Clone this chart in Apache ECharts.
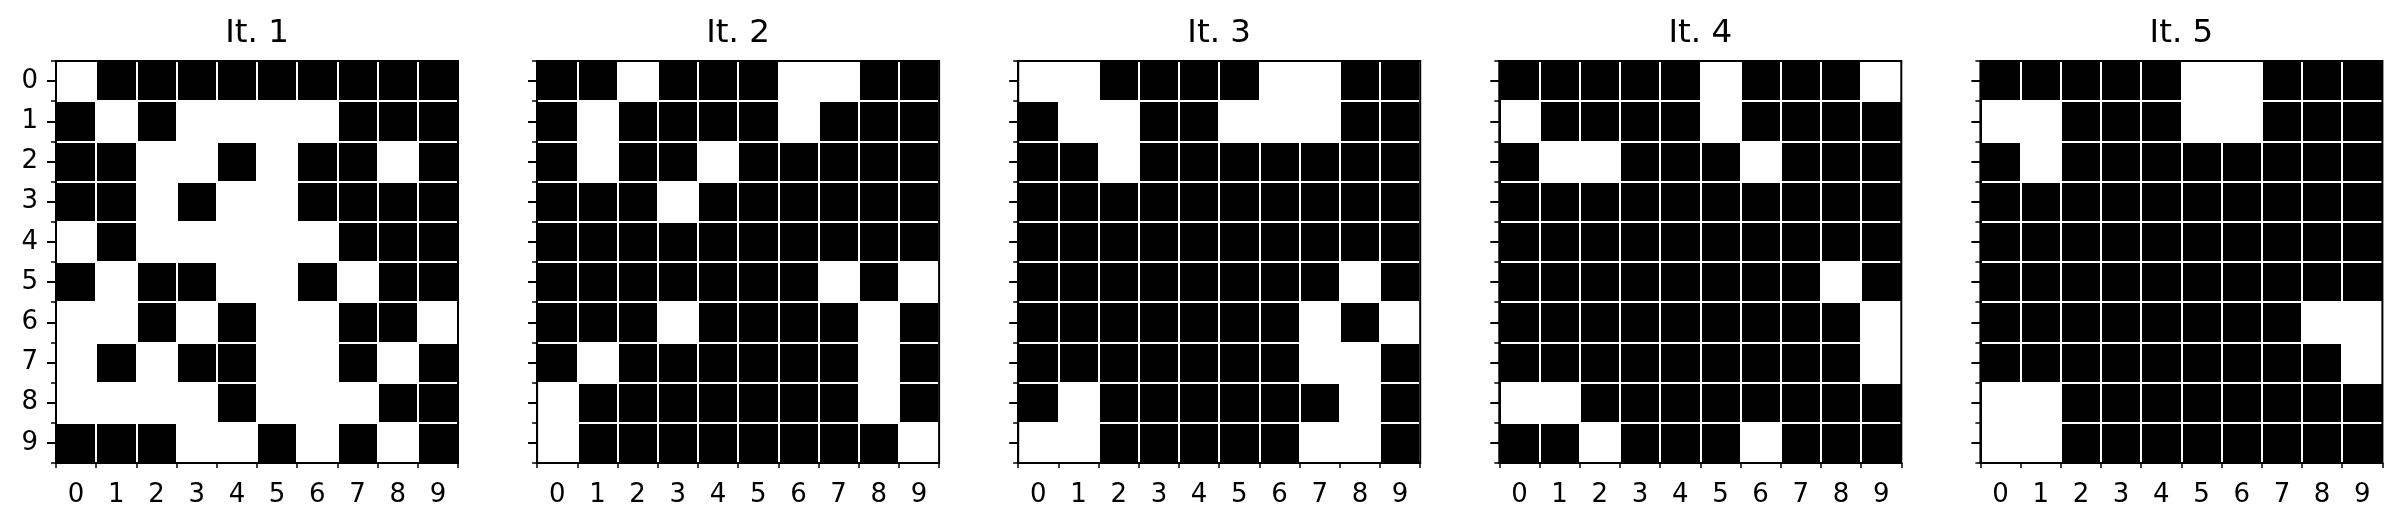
<!DOCTYPE html>
<html><head><meta charset="utf-8">
<script src="https://cdn.jsdelivr.net/npm/echarts@6/dist/echarts.min.js"></script>
<style>html,body{margin:0;padding:0;background:#fff}#c{width:2402px;height:530px}</style>
</head><body><div id="c"></div>
<script>
const titles = ['It. 1', 'It. 2', 'It. 3', 'It. 4', 'It. 5'];
const categories = ['0', '1', '2', '3', '4', '5', '6', '7', '8', '9'];

const it1 = [
  [0,1,1,1,1,1,1,1,1,1],
  [1,0,1,0,0,0,0,1,1,1],
  [1,1,0,0,1,0,1,1,0,1],
  [1,1,0,1,0,0,1,1,1,1],
  [0,1,0,0,0,0,0,1,1,1],
  [1,0,1,1,0,0,1,0,1,1],
  [0,0,1,0,1,0,0,1,1,0],
  [0,1,0,1,1,0,0,1,0,1],
  [0,0,0,0,1,0,0,0,1,1],
  [1,1,1,0,0,1,0,1,0,1]
];
const it2 = [
  [1,1,0,1,1,1,0,0,1,1],
  [1,0,1,1,1,1,0,1,1,1],
  [1,0,1,1,0,1,1,1,1,1],
  [1,1,1,0,1,1,1,1,1,1],
  [1,1,1,1,1,1,1,1,1,1],
  [1,1,1,1,1,1,1,0,1,0],
  [1,1,1,0,1,1,1,1,0,1],
  [1,0,1,1,1,1,1,1,0,1],
  [0,1,1,1,1,1,1,1,0,1],
  [0,1,1,1,1,1,1,1,1,0]
];
const it3 = [
  [0,0,1,1,1,1,0,0,1,1],
  [1,0,0,1,1,0,0,0,1,1],
  [1,1,0,1,1,1,1,1,1,1],
  [1,1,1,1,1,1,1,1,1,1],
  [1,1,1,1,1,1,1,1,1,1],
  [1,1,1,1,1,1,1,1,0,1],
  [1,1,1,1,1,1,1,0,1,0],
  [1,1,1,1,1,1,1,0,0,1],
  [1,0,1,1,1,1,1,1,0,1],
  [0,0,1,1,1,1,1,0,0,1]
];
const it4 = [
  [1,1,1,1,1,0,1,1,1,0],
  [0,1,1,1,1,0,1,1,1,1],
  [1,0,0,1,1,1,0,1,1,1],
  [1,1,1,1,1,1,1,1,1,1],
  [1,1,1,1,1,1,1,1,1,1],
  [1,1,1,1,1,1,1,1,0,1],
  [1,1,1,1,1,1,1,1,1,0],
  [1,1,1,1,1,1,1,1,1,0],
  [0,0,1,1,1,1,1,1,1,1],
  [1,1,0,1,1,1,0,1,1,1]
];
const it5 = [
  [1,1,1,1,1,0,0,1,1,1],
  [0,0,1,1,1,0,0,1,1,1],
  [1,0,1,1,1,1,1,1,1,1],
  [1,1,1,1,1,1,1,1,1,1],
  [1,1,1,1,1,1,1,1,1,1],
  [1,1,1,1,1,1,1,1,1,1],
  [1,1,1,1,1,1,1,1,0,0],
  [1,1,1,1,1,1,1,1,1,0],
  [0,0,1,1,1,1,1,1,1,1],
  [0,0,1,1,1,1,1,1,1,1]
];
const grids = [it1, it2, it3, it4, it5];

const FONT = 'DejaVu Sans';
const PLOT_LEFT0 = 56, STEP = 481.1, PLOT_TOP = 61, PLOT_SIZE = 402;

function toData(g) {
  const out = [];
  g.forEach((row, r) => row.forEach((v, c) => out.push([c, r, v])));
  return out;
}

const option = {
  backgroundColor: '#fff',
  animation: false,
  title: titles.map((t, i) => ({
    text: t,
    left: PLOT_LEFT0 + i * STEP + PLOT_SIZE / 2,
    top: 17.4,
    padding: 0,
    textAlign: 'center',
    textStyle: { fontSize: 32.5, fontWeight: 'normal', color: '#000', fontFamily: FONT }
  })),
  visualMap: {
    type: 'piecewise', show: false, dimension: 2,
    seriesIndex: [0, 1, 2, 3, 4],
    pieces: [{ value: 0, color: '#ffffff' }, { value: 1, color: '#000000' }]
  },
  grid: titles.map((t, i) => ({
    left: PLOT_LEFT0 + i * STEP, top: PLOT_TOP, width: PLOT_SIZE, height: PLOT_SIZE,
    show: true, z: 10, borderColor: '#000', borderWidth: 2, backgroundColor: 'transparent'
  })),
  xAxis: titles.map((t, i) => ({
    gridIndex: i, type: 'category', data: categories, position: 'bottom', z: 5,
    axisLine: { show: true, lineStyle: { color: '#000', width: 2 } },
    axisTick: { show: true, length: 5, lineStyle: { color: '#000', width: 1.5 } },
    axisLabel: { show: true, margin: 19, fontSize: 26, color: '#000', fontFamily: FONT },
    splitLine: { show: true, lineStyle: { color: '#ffffff', width: 2 } }
  })),
  yAxis: titles.flatMap((t, i) => [
    {
      gridIndex: i, type: 'category', data: categories, inverse: true, position: 'left', offset: 0, z: 5,
      axisLine: { show: true, lineStyle: { color: '#000', width: 2 } },
      axisTick: { show: true, alignWithLabel: true, length: 9, lineStyle: { color: '#000', width: 2 } },
      axisLabel: { show: i === 0, margin: 18, fontSize: 26, color: '#000', fontFamily: FONT },
      splitLine: { show: false }
    },
    {
      gridIndex: i, type: 'category', data: categories, inverse: true, position: 'left', offset: 0, z: 5,
      axisLine: { show: false },
      axisTick: { show: true, length: 5, lineStyle: { color: '#000', width: 1.5 } },
      axisLabel: { show: false },
      splitLine: { show: true, lineStyle: { color: '#ffffff', width: 2 } }
    }
  ]),
  series: grids.map((g, i) => ({
    type: 'heatmap', xAxisIndex: i, yAxisIndex: 2 * i,
    data: toData(g),
    emphasis: { disabled: true },
    itemStyle: { borderWidth: 0 }
  }))
};

const chart = echarts.init(document.getElementById('c'), null, { renderer: 'canvas' });
chart.setOption(option);
</script>
</body></html>
